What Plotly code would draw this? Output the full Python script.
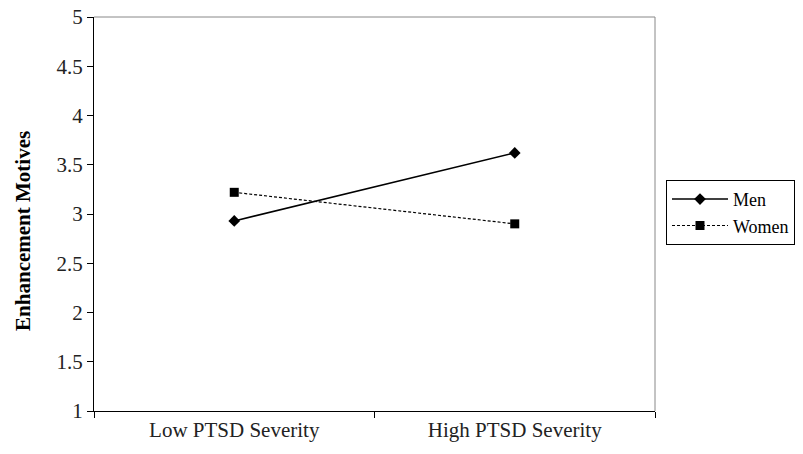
import plotly.graph_objects as go

categories = ["Low PTSD Severity", "High PTSD Severity"]
men = [2.93, 3.62]
women = [3.22, 2.90]
y_ticks = [1, 1.5, 2, 2.5, 3, 3.5, 4, 4.5, 5]
y_tick_labels = ["1", "1.5", "2", "2.5", "3", "3.5", "4", "4.5", "5"]
y_title = "Enhancement Motives"

font = "Times New Roman"

fig = go.Figure()
fig.add_trace(go.Scatter(
    x=categories, y=men, name="Men", mode="lines+markers",
    line=dict(color="black", width=1.5),
    marker=dict(symbol="diamond", size=9, color="black"),
))
fig.add_trace(go.Scatter(
    x=categories, y=women, name="Women", mode="lines+markers",
    line=dict(color="black", width=1.2, dash="3px,2px"),
    marker=dict(symbol="square", size=9, color="black"),
))

fig.update_layout(
    width=803, height=454,
    margin=dict(l=94, r=148, t=17, b=43, autoexpand=False),
    paper_bgcolor="white", plot_bgcolor="white",
    font=dict(family=font, size=21, color="#222"),
    showlegend=True,
    legend=dict(
        x=1.0196, y=0.504, xanchor="left", yanchor="middle",
        bordercolor="black", borderwidth=1,
        font=dict(family=font, size=18, color="black"),
        tracegroupgap=4, itemwidth=56,
    ),
    shapes=[
        dict(type="line", xref="paper", yref="paper", x0=0, x1=1, y0=1, y1=1,
             line=dict(color="#888", width=1)),
        dict(type="line", xref="paper", yref="paper", x0=1, x1=1, y0=0, y1=1,
             line=dict(color="#888", width=1)),
    ],
    annotations=[
        dict(text="<b>" + y_title + "</b>", textangle=-90, showarrow=False,
             xref="paper", yref="paper", x=-0.1266, y=0.457,
             xanchor="center", yanchor="middle",
             font=dict(family=font, size=21, color="black")),
    ],
)
fig.update_xaxes(
    type="category", range=[-0.5, 1.5],
    showline=True, linecolor="black", linewidth=1,
    ticks="outside", ticklen=6, tickcolor="black",
    tickson="boundaries", showgrid=False,
    tickfont=dict(family=font, size=21, color="#222"),
)
fig.update_yaxes(
    range=[1, 5], tickvals=y_ticks, ticktext=y_tick_labels,
    showline=True, linecolor="black", linewidth=1,
    ticks="outside", ticklen=6, tickcolor="black",
    showgrid=False, zeroline=False,
    tickfont=dict(family=font, size=21, color="#222"),
)

fig.write_html("out.html", config={"displayModeBar": False},
               post_script="document.body.style.margin='0';")
